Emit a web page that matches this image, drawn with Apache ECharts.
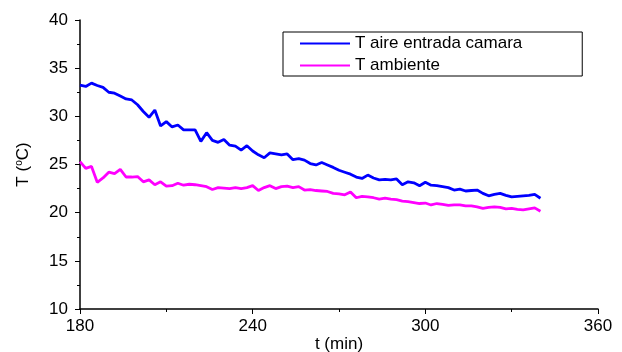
<!DOCTYPE html>
<html>
<head>
<meta charset="utf-8">
<script src="https://cdn.jsdelivr.net/npm/echarts@6/dist/echarts.min.js"></script>
<style>
html, body { margin: 0; padding: 0; background: #fff; }
#chart { width: 622px; height: 352px; }
</style>
</head>
<body>
<div id="chart"></div>
<script>
// tiempo (min), cada 2 min
var tiempo = [];
for (var t = 180; t <= 340; t += 2) tiempo.push(t);

var tAire = [33.25, 33.1, 33.45, 33.2, 33.0, 32.5, 32.4, 32.1, 31.8, 31.7,
	31.2, 30.5, 29.9, 30.65, 29.0, 29.45, 28.9, 29.1, 28.6, 28.6,
	28.6, 27.4, 28.3, 27.5, 27.3, 27.6, 27.0, 26.9, 26.5, 26.95,
	26.4, 26.0, 25.7, 26.2, 26.1, 26.0, 26.1, 25.5, 25.6, 25.45,
	25.1, 24.95, 25.2, 24.95, 24.7, 24.4, 24.2, 24.0, 23.7, 23.55,
	23.9, 23.6, 23.4, 23.45, 23.4, 23.5, 22.9, 23.2, 23.1, 22.8,
	23.15, 22.85, 22.8, 22.7, 22.6, 22.35, 22.45, 22.25, 22.3, 22.35,
	22.0, 21.75, 21.9, 22.0, 21.8, 21.65, 21.7, 21.75, 21.8, 21.9,
	21.5];

var tAmbiente = [25.3, 24.6, 24.8, 23.15, 23.6, 24.2, 24.05, 24.5, 23.7, 23.7,
	23.75, 23.2, 23.4, 22.9, 23.2, 22.75, 22.8, 23.05, 22.85, 22.95,
	22.9, 22.8, 22.7, 22.4, 22.6, 22.55, 22.5, 22.6, 22.5, 22.6,
	22.8, 22.3, 22.6, 22.8, 22.5, 22.7, 22.75, 22.6, 22.7, 22.35,
	22.4, 22.3, 22.25, 22.2, 22.0, 21.95, 21.85, 22.15, 21.55, 21.7,
	21.65, 21.55, 21.4, 21.5, 21.4, 21.35, 21.2, 21.15, 21.05, 20.95,
	21.0, 20.8, 20.95, 20.85, 20.75, 20.8, 20.8, 20.7, 20.7, 20.6,
	20.45, 20.55, 20.6, 20.55, 20.4, 20.45, 20.35, 20.3, 20.4, 20.5,
	20.15];

function pares(xs, ys) {
	var out = [];
	for (var i = 0; i < xs.length; i++) out.push([xs[i], ys[i]]);
	return out;
}

var fuente = 'Liberation Sans, Arial, sans-serif';
var myChart = echarts.init(document.getElementById('chart'));
var option = {
	animation: false,
	backgroundColor: '#fff',
	textStyle: { fontFamily: fuente },
	grid: { left: 80, right: 24, top: 20, bottom: 43, containLabel: false, outerBoundsMode: 'none' },
	legend: {
		orient: 'vertical',
		left: 283,
		top: 32,
		itemWidth: 50,
		itemHeight: 2,
		itemGap: 5,
		icon: 'rect',
		padding: [3, 60, 2, 17],
		borderColor: '#000',
		borderWidth: 1,
		textStyle: { fontSize: 17, color: '#000', fontFamily: fuente },
		data: ['T aire entrada camara', 'T ambiente']
	},
	xAxis: {
		type: 'value',
		min: 180,
		max: 360,
		interval: 60,
		name: 't (min)',
		nameLocation: 'middle',
		nameGap: 27,
		nameMoveOverlap: false,
		nameTextStyle: { fontSize: 17, color: '#000', fontFamily: fuente },
		axisLine: { lineStyle: { color: '#000', width: 1.5 } },
		axisTick: { inside: false, length: 5, lineStyle: { color: '#000' } },
		minorTick: { show: true, splitNumber: 2, length: 3, lineStyle: { color: '#000' } },
		axisLabel: { fontSize: 17, color: '#000', margin: 9, fontFamily: fuente },
		splitLine: { show: false }
	},
	yAxis: {
		type: 'value',
		min: 10,
		max: 40,
		interval: 5,
		name: '{n|T (}{s|o}{n|C)}',
		nameLocation: 'middle',
		nameGap: 48,
		nameMoveOverlap: false,
		nameRotate: 90,
		nameTextStyle: {
			color: '#000',
			fontFamily: fuente,
			rich: {
				n: { fontSize: 17, color: '#000', fontFamily: fuente },
				s: { fontSize: 10, color: '#000', fontFamily: fuente, verticalAlign: 'top', padding: [0, 0, 8, 0] }
			}
		},
		axisLine: { show: true, lineStyle: { color: '#000', width: 1.5 } },
		axisTick: { show: true, inside: false, length: 5, lineStyle: { color: '#000' } },
		minorTick: { show: true, splitNumber: 2, length: 3, lineStyle: { color: '#000' } },
		axisLabel: { fontSize: 17, color: '#000', margin: 12, fontFamily: fuente },
		splitLine: { show: false }
	},
	series: [{
		name: 'T aire entrada camara',
		type: 'line',
		showSymbol: false,
		smooth: false,
		color: '#0000ff',
		lineStyle: { color: '#0000ff', width: 2.8 },
		data: pares(tiempo, tAire)
	}, {
		name: 'T ambiente',
		type: 'line',
		showSymbol: false,
		smooth: false,
		color: '#ff00ff',
		lineStyle: { color: '#ff00ff', width: 2.8 },
		data: pares(tiempo, tAmbiente)
	}]
};
myChart.setOption(option);
window.onresize = myChart.resize;
</script>
</body>
</html>
